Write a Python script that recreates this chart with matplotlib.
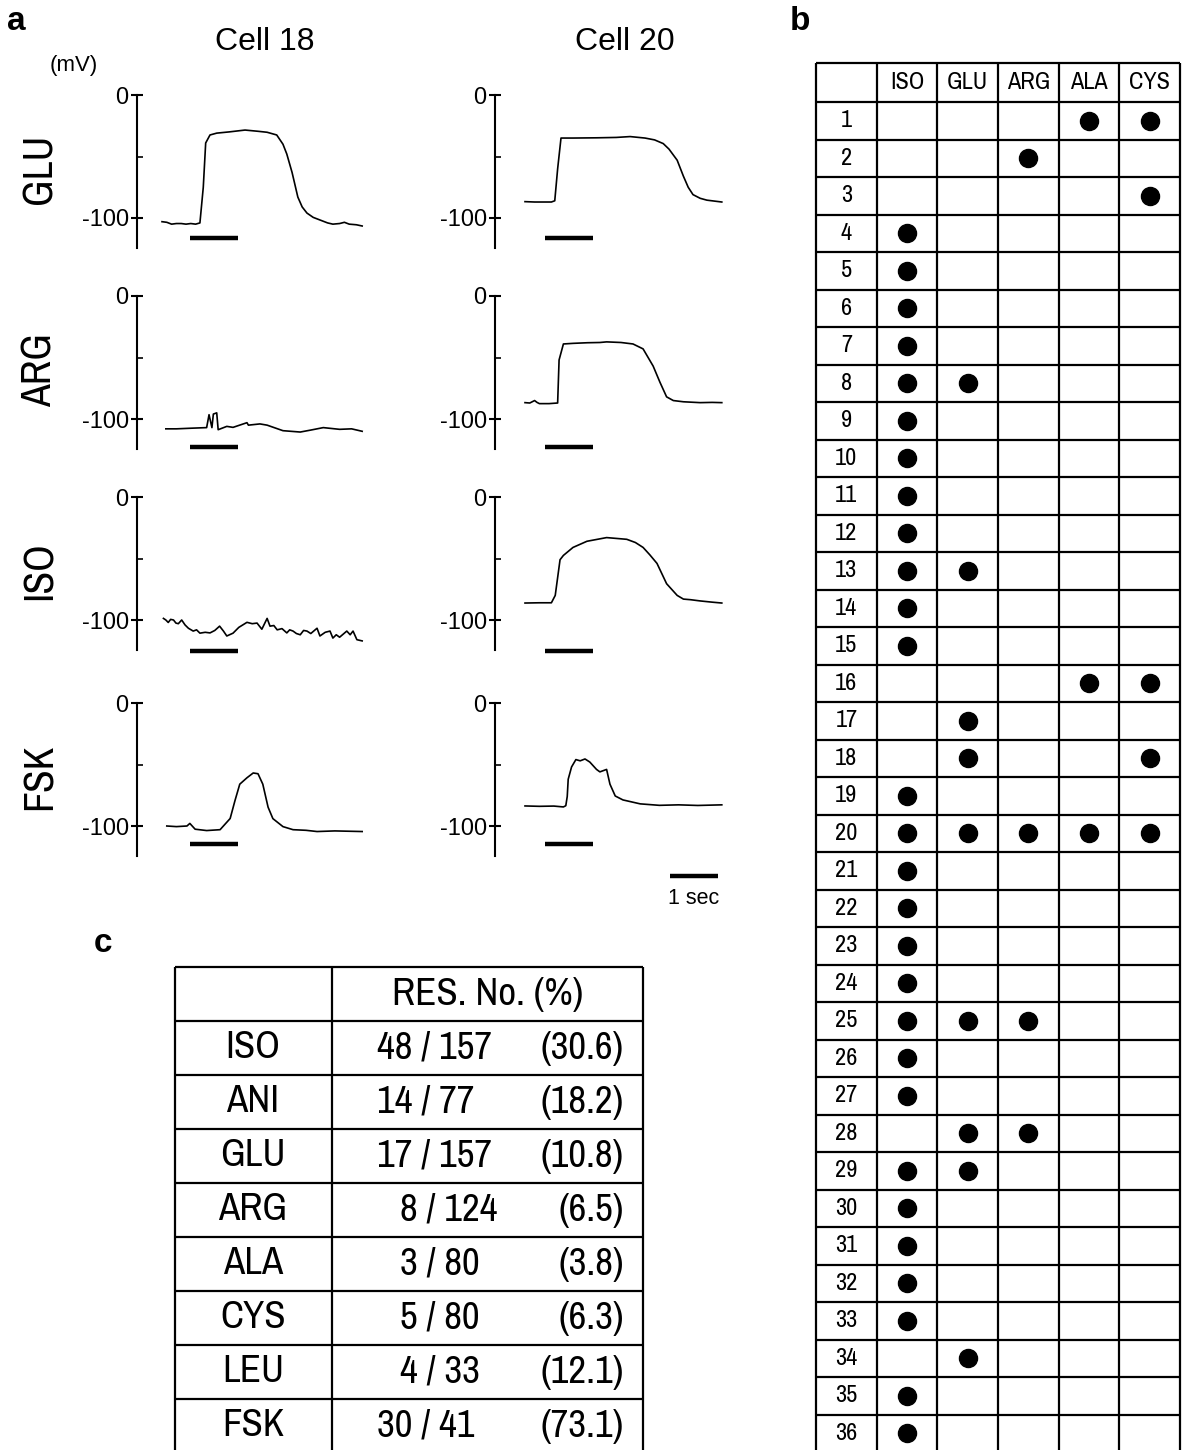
import numpy as np
import matplotlib
matplotlib.use("Agg")
import matplotlib.pyplot as plt
from matplotlib.ticker import FixedLocator

plt.rcParams['font.family'] = ['Liberation Sans', 'DejaVu Sans']
NARROW = ['Archivo Narrow', 'Liberation Sans', 'DejaVu Sans']

# ---- panel a: membrane potential traces (t in s, v in mV) ----
drugs = ['GLU', 'ARG', 'ISO', 'FSK']
cells = ['Cell 18', 'Cell 20']

c18_glu_t = [0, 0.1, 0.2, 0.3, 0.4, 0.5, 0.6, 0.7, 0.79, 0.86, 0.91, 1.0, 1.14, 1.4, 1.73, 2.0, 2.19,
             2.39, 2.52, 2.6, 2.71, 2.83, 2.92, 3.02, 3.15, 3.29, 3.45, 3.56, 3.7, 3.8, 3.9, 4.05, 4.17]
c18_glu_v = [-103, -103.5, -105, -104.5, -104.5, -105, -104.5, -105, -104, -75, -39, -32.5, -31, -30,
             -28.5, -29.5, -30.3, -32.5, -40, -48, -63, -83, -91, -96, -99.5, -101.6, -104, -105,
             -104.5, -103.5, -105, -105.5, -106.5]

c18_arg_t = [0.08, 0.3, 0.6, 0.93, 0.98, 1.04, 1.07, 1.14, 1.17, 1.35, 1.48, 1.77, 1.8, 2.04, 2.19,
             2.52, 2.88, 3.1, 3.36, 3.7, 3.95, 4.17]
c18_arg_v = [-108, -108, -107.5, -107, -96.5, -107, -96, -95, -108.7, -106, -106.8, -103, -105, -104,
             -105, -109.5, -110.6, -109, -107, -108.4, -108, -110]

c18_iso_t = [0.03, 0.08, 0.13, 0.18, 0.24, 0.29, 0.34, 0.41, 0.48, 0.55, 0.65, 0.72, 0.79, 0.9, 1.0,
             1.1, 1.2, 1.28, 1.35, 1.48, 1.6, 1.77, 1.88, 1.98, 2.08, 2.19, 2.25, 2.33, 2.4, 2.5, 2.6,
             2.66, 2.73, 2.8, 2.88, 2.95, 3.02, 3.1, 3.23, 3.29, 3.4, 3.5, 3.56, 3.63, 3.7, 3.85,
             3.92, 3.98, 4.06, 4.17]
c18_iso_v = [-98.7, -100, -102, -99.5, -100, -102.5, -103, -100, -104, -106.7, -109, -108, -110.7,
             -110, -110.5, -108.5, -105, -109, -113, -110.7, -106, -101.9, -103, -102.5, -107.5, -98.7,
             -105, -104.5, -108, -107, -110.5, -108, -109, -111, -112, -108.5, -109, -111, -106.7,
             -113, -110, -109, -114.7, -112, -114, -109, -112, -109, -116, -117]

c18_fsk_t = [0.1, 0.3, 0.52, 0.58, 0.69, 0.93, 1.21, 1.42, 1.52, 1.62, 1.77, 1.9, 2.0, 2.1, 2.21,
             2.31, 2.52, 2.73, 3.0, 3.23, 3.6, 4.17]
c18_fsk_v = [-100, -100.5, -100, -97.9, -102.6, -103.7, -103, -93.9, -79.4, -66, -60.8, -56.9, -57.5,
             -66, -84.7, -94, -100.5, -103, -103.5, -104.5, -104, -104.5]

c20_glu_t = [0, 0.2, 0.4, 0.55, 0.62, 0.68, 0.75, 1.0, 1.5, 1.9, 2.19, 2.5, 2.7, 2.88, 3.0, 3.17,
             3.3, 3.4, 3.5, 3.65, 3.79, 4.1]
c20_glu_v = [-86.7, -87, -87, -87, -86, -60, -35, -35, -34.8, -34.5, -33.8, -35, -36.5, -39.5, -44,
             -53, -66, -75, -81, -84, -85.5, -87]

c20_arg_t = [0, 0.1, 0.2, 0.25, 0.3, 0.5, 0.68, 0.71, 0.8, 1.0, 1.3, 1.56, 1.7, 2.0, 2.25, 2.46,
             2.67, 2.81, 2.95, 3.09, 3.3, 3.65, 3.9, 4.1]
c20_arg_v = [-86.7, -87, -85, -86.5, -87.5, -87.5, -87, -52, -39, -38.5, -38, -37.8, -37.3, -37.8,
             -39, -43, -57, -70, -82, -85, -86, -86.7, -86.5, -86.7]

c20_iso_t = [0, 0.3, 0.55, 0.63, 0.73, 0.8, 1.0, 1.29, 1.7, 2.12, 2.3, 2.46, 2.6, 2.75, 2.95, 3.17,
             3.3, 3.45, 3.65, 3.9, 4.1]
c20_iso_v = [-86.2, -86, -86, -80, -51, -47.5, -41, -36, -33, -34.4, -37, -41, -47, -54, -70.5, -80,
             -83, -83.5, -84.5, -85.5, -86.2]

c20_fsk_t = [0, 0.3, 0.6, 0.8, 0.85, 0.88, 0.9, 0.97, 1.06, 1.15, 1.25, 1.35, 1.42, 1.49, 1.56, 1.7,
             1.77, 1.88, 2.04, 2.4, 2.8, 3.2, 3.6, 4.1]
c20_fsk_v = [-83.7, -84, -83.8, -84.5, -83.5, -76, -62, -52, -46, -47, -45.5, -48, -51, -54, -56, -54,
             -66, -75.6, -78.8, -82, -83.2, -82.8, -83.3, -82.8]

traces = [
    [(c18_glu_t, c18_glu_v), (c20_glu_t, c20_glu_v)],
    [(c18_arg_t, c18_arg_v), (c20_arg_t, c20_arg_v)],
    [(c18_iso_t, c18_iso_v), (c20_iso_t, c20_iso_v)],
    [(c18_fsk_t, c18_fsk_v), (c20_fsk_t, c20_fsk_v)],
]
stim_on = [0.58, 0.42]      # per cell, 1 s application
stim_dur = 1.0
stim_level = [-116, -123, -125, -115]

# ---- panel b: responses of single cells ----
odorants = ['ISO', 'GLU', 'ARG', 'ALA', 'CYS']
cell_ids = list(range(1, 37))
iso_cells = [4, 5, 6, 7, 8, 9, 10, 11, 12, 13, 14, 15, 19, 20, 21, 22, 23, 24, 25, 26, 27,
             29, 30, 31, 32, 33, 35, 36]
glu_cells = [8, 13, 17, 18, 20, 25, 28, 29, 34]
arg_cells = [2, 20, 25, 28]
ala_cells = [1, 16, 20]
cys_cells = [1, 3, 16, 18, 20]
responders = [iso_cells, glu_cells, arg_cells, ala_cells, cys_cells]

# ---- panel c: response rates ----
stimuli = ['ISO', 'ANI', 'GLU', 'ARG', 'ALA', 'CYS', 'LEU', 'FSK']
n_res = [48, 14, 17, 8, 3, 5, 4, 30]
n_tot = [157, 77, 157, 124, 80, 80, 33, 41]
pct = ['30.6', '18.2', '10.8', '6.5', '3.8', '6.3', '12.1', '73.1']

W, H = 1182, 1450
fig = plt.figure(figsize=(W / 100, H / 100), dpi=100)


def px_axes(left, top, width, height):
    return fig.add_axes([left / W, 1 - (top + height) / H, width / W, height / H])


# panel a
row_zero = [95, 296, 497, 703]
spine_x = [137, 495]
t0_x = [162, 525]
px_s = 48.0
px_mv = 1.23
ax_w = 245
for r in range(4):
    for c in range(2):
        top = row_zero[r] - 5 * px_mv
        ax = px_axes(spine_x[c], top, ax_w, 135 * px_mv)
        xl = (spine_x[c] - t0_x[c]) / px_s
        ax.set_xlim(xl, xl + ax_w / px_s)
        ax.set_ylim(-130, 5)
        t, v = traces[r][c]
        ax.plot(t, v, color='black', lw=1.2)
        ax.plot([stim_on[c], stim_on[c] + stim_dur], [stim_level[r]] * 2,
                color='black', lw=3.2, solid_capstyle='butt')
        for s in ['top', 'right', 'bottom']:
            ax.spines[s].set_visible(False)
        ax.spines['left'].set_bounds(-124, 0)
        ax.spines['left'].set_linewidth(1.5)
        ax.set_xticks([])
        ax.set_yticks([0, -100])
        ax.set_yticklabels(['0', '-100'])
        ax.yaxis.set_minor_locator(FixedLocator([-50]))
        ax.tick_params(axis='y', which='major', direction='inout', length=8, width=1.5,
                       labelsize=17, pad=2)
        ax.tick_params(axis='y', which='minor', direction='in', length=4, width=1.2)
        ax.patch.set_alpha(0)
        if r == 3 and c == 1:
            ax.plot([3.02, 4.02], [-141, -141], color='black', lw=3.2,
                    solid_capstyle='butt', clip_on=False)
            ax.text(3.52, -159, '1 sec', ha='center', va='center', fontsize=15.5)
    fig.text(40 / W, 1 - (row_zero[r] + 74) / H, drugs[r], rotation=90, ha='center',
             va='center', fontsize=30, family=NARROW)

fig.text(265 / W, 1 - 42 / H, cells[0], ha='center', va='center', fontsize=23)
fig.text(625 / W, 1 - 42 / H, cells[1], ha='center', va='center', fontsize=23)
fig.text(74 / W, 1 - 66 / H, '(mV)', ha='center', va='center', fontsize=16)

for lab, x, y in [('a', 16, 22), ('b', 800, 22), ('c', 103, 944)]:
    fig.text(x / W, 1 - y / H, lab, ha='center', va='center', fontsize=24, fontweight='bold')

# panel b table
row_h = 37.5
hdr = 39 / row_h
axb = px_axes(816, 63, 364, H - 63)
axb.set_xlim(0, 6)
axb.set_ylim((H - 102) / row_h, -hdr)
axb.axis('off')
axb.hlines([-hdr] + list(range(0, 36)), 0, 6, color='black', lw=1.6, clip_on=False)
axb.vlines(range(7), -hdr, 37, color='black', lw=1.6, clip_on=False)
for j, name in enumerate(odorants):
    axb.text(j + 1.5, -hdr / 2, name, ha='center', va='center', fontsize=17.5, family=NARROW)
    cl = responders[j]
    axb.plot([j + 1.5] * len(cl), [k - 0.5 for k in cl], 'o', color='black', ms=13)
for k in cell_ids:
    axb.text(0.5, k - 0.5, str(k), ha='center', va='center', fontsize=17.5, family=NARROW)

# panel c table
c_row = 54.0
axc = px_axes(175, 967, 468, H - 967)
axc.set_xlim(0, 468)
axc.set_ylim((H - 967) / c_row - 1, -1)
axc.axis('off')
axc.hlines(list(range(-1, 8)), 0, 468, color='black', lw=1.6, clip_on=False)
axc.vlines([0, 157, 468], -1, 9, color='black', lw=1.6, clip_on=False)
axc.text(312.5, -0.5, 'RES. No. (%)', ha='center', va='center', fontsize=28, family=NARROW)
for i, name in enumerate(stimuli):
    yc = i + 0.5
    axc.text(78, yc, name, ha='center', va='center', fontsize=28, family=NARROW)
    xf = 202 if n_res[i] >= 10 else 225
    axc.text(xf, yc, f'{n_res[i]} / {n_tot[i]}', ha='left', va='center', fontsize=28,
             family=NARROW)
    axc.text(449, yc, f'({pct[i]})', ha='right', va='center', fontsize=28, family=NARROW)

fig.savefig('out.png', dpi=100)
